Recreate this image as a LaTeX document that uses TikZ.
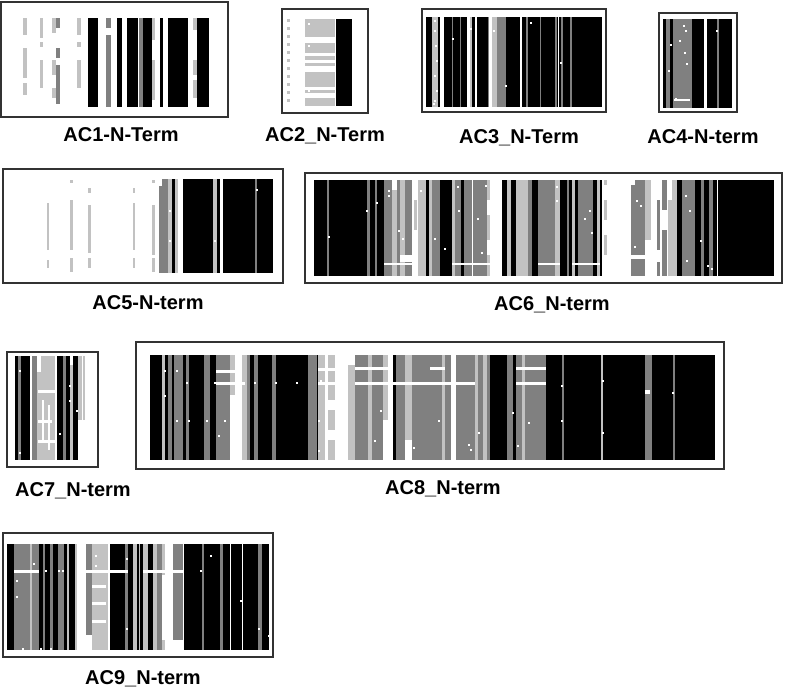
\documentclass[tikz,border=0pt]{standalone}
\usepackage{fontspec}
\setmainfont{Liberation Sans}
\definecolor{bk}{gray}{0}
\definecolor{dg}{gray}{0.5}
\definecolor{lg}{gray}{0.76}
\definecolor{fr}{gray}{0.2}
\newcommand\fullbars[3]{\foreach \a/\b/\c in {#3} {\fill[\c] (\a,#1) rectangle (\b,#2);}}
\newcommand\partbars[1]{\foreach \a/\b/\p/\q/\c in {#1} {\fill[\c] (\a,\p) rectangle (\b,\q);}}
\newcommand\wdots[1]{\foreach \u/\v in {#1} {\fill[white] (\u,\v) rectangle ++(2.2,2.2);}}
\tikzset{
  frame/.style={draw=fr, line width=1.4pt},
  lab/.style={font=\bfseries\fontsize{20}{24}\selectfont, anchor=base, inner sep=0pt}
}
\begin{document}
\begin{tikzpicture}[x=1pt,y=-1pt]
\useasboundingbox (0,0) rectangle (789,690);
\fill[white] (0,0) rectangle (789,690);

% ---------------- AC1
\partbars{23/27/18/35/lg, 23/27/48/78/lg, 23/27/83/95/lg,
 40/43/18/38/lg, 40/43/42/47/lg, 40/43/60/88/lg,
 52/56/18/33/lg, 52/56/60/75/lg, 52/56/88/98/lg,
 56/60/18/28/dg, 56/60/48/58/dg, 56/60/65/104/dg,
 77/81/18/35/lg, 77/81/42/47/lg, 77/81/60/88/lg,
 152/155/18/40/lg, 152/155/60/100/lg,
 193/197/18/30/lg, 193/197/60/75/lg, 193/197/80/98/lg}
\fullbars{18}{107}{88/98/bk, 106/111/dg, 117/122/bk, 127/138/bk, 139/143/dg, 143/152/bk, 160/163/bk, 168/188/bk, 197/209/bk}
\fill[white] (106,28) rectangle (111,35);
\draw[frame] (1,2) rectangle (228,117);
\node[lab] (l1) at (121,142) {AC1-N-Term};

% ---------------- AC2
\foreach \v in {19,27,35,43,51,59,67,75,83,91,99} {\fill[lg] (287,\v) rectangle (290,\v+3.5);}
\partbars{305/335/19/37/lg, 305/335/43/53/lg, 305/335/56/60/lg, 305/335/63/66/lg,
 305/335/72/87/lg, 305/335/90/93/lg, 305/335/98/106/lg}
\fullbars{19}{106}{336/352/bk}
\wdots{308/23, 308/45, 308/90}
\draw[frame] (282,9) rectangle (368,113);
\node[lab] (l2) at (325,142) {AC2\_N-Term};

% ---------------- AC3
\fullbars{17}{107}{426/602/bk, 432/438/lg, 440/444/white, 452/453/dg, 460/461/dg, 467/470/white,
 470/472/lg, 475/477/white, 488/489/dg, 489/492/white, 492/497/lg, 497/506/dg, 520/522/white,
 526/528/dg, 540/541/dg, 555/557/dg, 558/559/white, 561/563/dg, 570/572/dg}
\wdots{434/20, 434/30, 435/45, 436/60, 434/75, 436/90, 434/100, 452/38, 468/45, 468/85,
 493/30, 505/85, 530/22, 560/62, 470/28, 433/103, 468/100}
\draw[frame] (422,9) rectangle (606,112);
\node[lab] (l3) at (519,143) {AC3\_N-Term};

% ---------------- AC4
\fullbars{19}{108}{663/666/bk, 666/670/dg, 670/673/bk, 673/692/dg, 692/704/bk, 707/717/bk, 717/719/dg, 719/732/bk}
\wdots{683/25, 685/30, 679/40, 684/52, 686/63, 670/44, 668/70, 675/98, 716/30}
\fill[white] (674,99) rectangle (690,101);
\draw[frame] (659,13) rectangle (737,112);
\node[lab] (l4) at (703,143) {AC4-N-term};

% ---------------- AC5
\partbars{47/49/203/250/lg, 47/49/260/268/lg,
 70/73/180/183/lg, 70/73/200/250/lg, 70/73/258/272/lg,
 88/91/188/193/lg, 88/91/205/253/lg, 88/91/258/268/lg,
 133/135/188/193/lg, 133/135/203/250/lg, 133/135/258/268/lg,
 152/155/180/183/lg, 152/155/205/255/lg, 152/155/258/272/lg,
 162/168/179/186/dg, 159/168/186/273/dg}
\fullbars{179}{273}{168/172/lg, 172/175/bk, 175/178/lg, 183/213/bk, 213/217/lg, 217/220/bk, 223/255/bk, 255/257/dg, 257/273/bk}
\wdots{169/210, 169/240, 256/189, 214/240}
\draw[frame] (3,169) rectangle (283,283);
\node[lab] (l5) at (148,309) {AC5-N-term};

% ---------------- AC6
\fullbars{180}{276}{314/327/bk, 327/329/dg, 329/367/bk, 367/370/dg, 370/375/bk, 375/377/dg, 377/384/bk,
 384/392/dg, 392/397/lg, 397/400/dg, 400/405/lg, 405/412/dg, 414/417/lg, 418/426/lg, 426/429/bk,
 429/432/lg, 432/440/dg, 440/452/bk, 452/455/lg, 455/461/dg, 461/464/bk, 464/472/dg,
 473/487/dg, 487/490/lg, 502/507/bk, 507/511/lg, 511/516/bk, 516/528/lg, 528/532/dg,
 532/538/bk, 538/555/dg, 555/560/lg, 560/567/bk, 567/569/dg, 569/572/bk, 572/575/lg, 575/578/bk,
 578/593/dg, 593/597/bk, 597/600/lg, 600/602/bk, 604/607/lg, 631/645/dg, 645/651/lg,
 657/660/dg, 662/667/dg, 668/677/lg, 677/682/bk, 682/695/dg, 695/701/bk, 701/704/dg,
 704/709/bk, 709/713/dg, 713/717/bk, 718/774/bk}
% gaps in the partial columns
\fill[white] (392,180) rectangle (397,190);
\fill[white] (400,255) rectangle (412,262);
\fill[white] (414,180) rectangle (418,200);
\fill[white] (414,230) rectangle (418,276);
\fill[white] (487,200) rectangle (490,215);
\fill[white] (487,240) rectangle (490,255);
\fill[white] (604,185) rectangle (607,200);
\fill[white] (604,220) rectangle (607,235);
\fill[white] (604,255) rectangle (607,276);
\fill[white] (631,180) rectangle (635,185);
\fill[white] (631,255) rectangle (651,259);
\fill[white] (657,180) rectangle (660,200);
\fill[white] (657,250) rectangle (660,262);
\fill[white] (662,210) rectangle (667,230);
\fill[white] (645,240) rectangle (651,276);
\fill[white] (668,180) rectangle (672,200);
\fill[white] (384,263) rectangle (412,265);
\fill[white] (452,263) rectangle (490,265);
\fill[white] (538,263) rectangle (560,265);
\fill[white] (572,263) rectangle (600,265);
\wdots{328/236, 366/210, 376/202, 388/190, 388/195, 398/230, 402/238, 420/190, 434/238, 444/248,
 457/186, 458/210, 477/218, 481/252, 485/185, 556/186, 556/200, 584/218, 589/210, 591/232,
 636/200, 640/205, 634/246, 685/195, 689/210, 700/240, 686/260, 707/265, 711/268}
\draw[frame] (305,173) rectangle (782,283);
\node[lab] (l6) at (552,310) {AC6\_N-term};

% ---------------- AC7
\fullbars{356}{460}{15/18/bk, 18/21/dg, 21/30/bk, 32/37/dg, 37/55/lg, 57/63/bk, 63/66/dg, 66/70/bk,
 70/73/lg, 73/78/bk, 78/82/lg, 83/85/lg}
\fill[white] (37,356) rectangle (41,372);
\fill[white] (38,390) rectangle (55,393);
\fill[white] (38,420) rectangle (52,423);
\fill[white] (38,440) rectangle (55,443);
\fill[white] (42,400) rectangle (44,440);
\fill[white] (48,405) rectangle (50,450);
\fill[white] (70,356) rectangle (73,365);
\fill[white] (78,420) rectangle (85,460);
\wdots{19/370, 30/392, 69/385, 69/400, 76/410, 19/452, 59/433}
\draw[frame] (7,352) rectangle (98,467);
\node[lab] (l7) at (73,496) {AC7\_N-term};

% ---------------- AC8
\fullbars{355}{460}{150/162/bk, 162/165/lg, 165/168/bk, 168/172/dg, 172/174/bk, 174/183/dg, 183/186/bk,
 186/189/dg, 189/204/bk, 204/210/dg, 210/216/bk, 216/230/dg, 230/235/lg, 242/247/lg, 247/250/dg,
 250/254/bk, 254/258/dg, 258/272/bk, 272/276/dg, 276/308/bk, 308/317/dg, 317/318/bk, 318/325/lg,
 328/335/lg, 348/355/lg, 355/368/dg, 368/372/lg, 372/383/dg, 383/388/lg, 393/396/bk, 396/405/dg,
 405/412/lg, 412/442/dg, 442/445/lg, 445/451/dg, 456/475/dg, 475/478/lg, 478/483/dg,
 483/487/lg, 487/490/dg, 490/507/bk, 507/513/dg, 513/516/bk, 516/522/dg, 522/525/lg,
 525/546/dg, 546/562/bk, 562/564/dg, 564/601/bk, 601/603/lg, 603/645/bk, 645/652/dg,
 652/673/bk, 673/675/dg, 675/715/bk}
% white bands and gaps
\fill[white] (216,370) rectangle (235,373);
\fill[white] (216,382) rectangle (245,385);
\fill[white] (318,368) rectangle (340,371);
\fill[white] (318,382) rectangle (335,385);
\fill[white] (348,355) rectangle (355,365);
\fill[white] (355,367) rectangle (392,370);
\fill[white] (355,382) rectangle (430,385);
\fill[white] (430,367) rectangle (445,370);
\fill[white] (430,382) rectangle (475,385);
\fill[white] (516,367) rectangle (546,370);
\fill[white] (516,382) rectangle (546,385);
\fill[white] (328,400) rectangle (335,410);
\fill[white] (328,430) rectangle (335,440);
\fill[white] (230,395) rectangle (235,460);
\fill[white] (383,420) rectangle (388,460);
\fill[white] (405,440) rectangle (412,460);
\fill[white] (645,390) rectangle (650,394);
\wdots{164/370, 164/395, 176/370, 186/382, 214/382, 176/420, 188/420, 206/420, 224/420, 218/435,
 254/382, 275/382, 296/382, 320/380, 318/420, 318/450, 342/420, 374/440, 380/410, 413/447,
 438/420, 468/444, 470/449, 478/432, 512/412, 517/445, 528/422, 561/385, 561/420, 602/380,
 602/432, 672/392}
\draw[frame] (136,342) rectangle (724,469);
\node[lab] (l8) at (443,494) {AC8\_N-term};

% ---------------- AC9
\fullbars{544}{650}{7/14/bk, 14/30/dg, 30/32/lg, 32/39/dg, 39/43/bk, 43/45/dg, 45/50/bk, 50/53/dg,
 53/58/bk, 58/64/dg, 64/67/bk, 67/69/lg, 69/75/bk, 75/77/lg, 86/92/dg, 92/106/lg, 106/108/lg,
 110/125/bk, 125/128/dg, 128/133/bk, 133/137/lg, 137/139/bk, 139/140/lg, 140/143/bk, 143/148/lg,
 148/153/bk, 153/157/lg, 157/162/dg, 162/165/lg, 173/183/dg, 184/202/bk, 202/204/dg, 204/220/bk,
 220/223/dg, 223/237/bk, 237/242/bk, 243/258/bk, 258/262/dg, 262/269/bk}
\fill[white] (14,570) rectangle (39,573);
\fill[white] (86,570) rectangle (128,573);
\fill[white] (92,585) rectangle (106,588);
\fill[white] (92,602) rectangle (106,605);
\fill[white] (92,620) rectangle (106,623);
\fill[white] (143,570) rectangle (165,573);
\fill[white] (162,575) rectangle (165,640);
\fill[white] (173,570) rectangle (183,573);
\fill[white] (173,640) rectangle (183,650);
\fill[white] (86,635) rectangle (92,650);
\fill[white] (230,544) rectangle (231,650);
\wdots{16/580, 16/596, 33/563, 45/570, 58/570, 62/570, 95/555, 95/565, 126/558, 126/628, 200/570,
 210/555, 240/600, 258/628, 268/635, 22/648, 40/648, 50/648}
\draw[frame] (3,533) rectangle (273,657);
\node[lab] (l9) at (143,684) {AC9\_N-term};
\end{tikzpicture}
\end{document}
